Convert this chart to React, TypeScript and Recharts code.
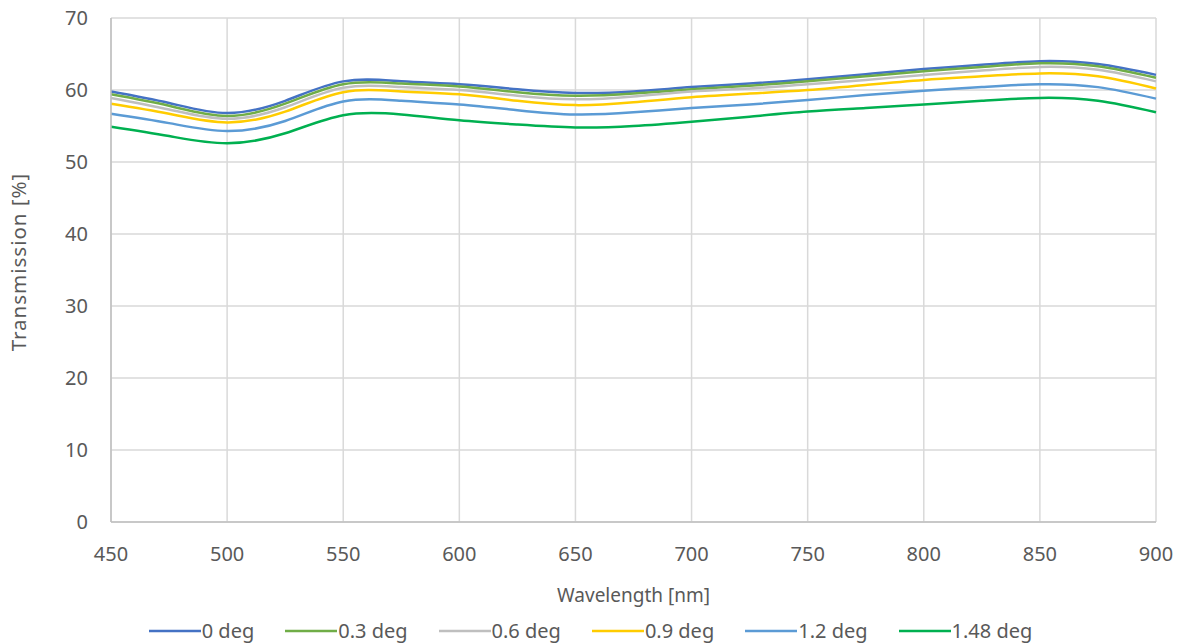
import React from 'react';
import {
  LineChart,
  Line,
  XAxis,
  YAxis,
  CartesianGrid,
} from 'recharts';

const wavelengths = [450, 475, 500, 525, 550, 575, 600, 625, 650, 675, 700, 725, 750, 775, 800, 825, 850, 875, 900];

const deg0 = [59.8, 58.2, 56.8, 58.5, 61.2, 61.2, 60.8, 60.1, 59.6, 59.8, 60.4, 60.9, 61.5, 62.2, 62.9, 63.5, 64.0, 63.6, 62.1];
const deg03 = [59.4, 57.8, 56.4, 58.1, 60.8, 60.9, 60.5, 59.7, 59.2, 59.5, 60.1, 60.6, 61.2, 61.9, 62.6, 63.2, 63.7, 63.3, 61.7];
const deg06 = [58.9, 57.3, 56.0, 57.6, 60.3, 60.4, 60.0, 59.2, 58.7, 59.1, 59.8, 60.2, 60.8, 61.4, 62.1, 62.7, 63.2, 62.8, 61.2];
const deg09 = [58.1, 56.7, 55.5, 57.0, 59.7, 59.8, 59.4, 58.5, 57.9, 58.3, 59.0, 59.5, 60.0, 60.7, 61.4, 61.9, 62.3, 61.9, 60.2];
const deg12 = [56.7, 55.4, 54.3, 55.7, 58.4, 58.5, 58.0, 57.2, 56.6, 56.9, 57.5, 58.0, 58.6, 59.3, 59.9, 60.4, 60.8, 60.4, 58.8];
const deg148 = [54.9, 53.6, 52.6, 54.0, 56.5, 56.6, 55.8, 55.2, 54.8, 55.0, 55.6, 56.3, 57.0, 57.5, 58.0, 58.5, 58.9, 58.5, 56.9];

const xTicks = [450, 500, 550, 600, 650, 700, 750, 800, 850, 900];
const yTicks = [0, 10, 20, 30, 40, 50, 60, 70];

const series = [
  { key: 'd0', name: '0 deg', values: deg0, color: '#4472C4' },
  { key: 'd03', name: '0.3 deg', values: deg03, color: '#70AD47' },
  { key: 'd06', name: '0.6 deg', values: deg06, color: '#BFBFBF' },
  { key: 'd09', name: '0.9 deg', values: deg09, color: '#FFCC00' },
  { key: 'd12', name: '1.2 deg', values: deg12, color: '#5B9BD5' },
  { key: 'd148', name: '1.48 deg', values: deg148, color: '#00B050' },
];

const data = wavelengths.map((w, i) => {
  const row: Record<string, number> = { w };
  series.forEach((s) => {
    row[s.key] = s.values[i];
  });
  return row;
});

const font = "'Noto Sans', sans-serif";
const textColor = '#595959';

function YLabel() {
  return (
    <text
      x={20}
      y={262}
      transform="rotate(-90, 20, 262)"
      textAnchor="middle"
      dominantBaseline="middle"
      fill={textColor}
      fontSize={20.5}
      letterSpacing={1}
      fontFamily={font}
    >
      Transmission [%]
    </text>
  );
}

export default function App() {
  return (
    <div style={{ position: 'absolute', left: 0, top: 0, width: 1181, height: 644, background: '#fff' }}>
      <LineChart
        width={1181}
        height={644}
        data={data}
        margin={{ top: 18, right: 25, left: 0, bottom: 42 }}
      >
        <CartesianGrid stroke="#d9d9d9" strokeWidth={1.5} />
        <XAxis
          dataKey="w"
          type="number"
          domain={[450, 900]}
          ticks={xTicks}
          height={80}
          tickSize={0}
          tickMargin={25}
          axisLine={{ stroke: '#bfbfbf', strokeWidth: 1.5 }}
          tick={{ fill: textColor, fontSize: 20, fontFamily: font }}
          label={{
            value: 'Wavelength [nm]',
            position: 'insideBottom',
            offset: 0,
            fill: textColor,
            fontSize: 19,
            fontFamily: font,
          }}
        />
        <YAxis
          type="number"
          domain={[0, 70]}
          ticks={yTicks}
          width={111}
          tickSize={0}
          tickMargin={23}
          axisLine={{ stroke: '#bfbfbf', strokeWidth: 1.5 }}
          tick={{ fill: textColor, fontSize: 20, fontFamily: font }}
          label={{ content: () => <YLabel /> }}
        />
        {series.map((s) => (
          <Line
            key={s.key}
            type="natural"
            dataKey={s.key}
            name={s.name}
            stroke={s.color}
            strokeWidth={2.5}
            dot={false}
            isAnimationActive={false}
          />
        ))}
      </LineChart>
      <div
        style={{
          position: 'absolute',
          top: 617,
          left: 0,
          width: 1181,
          display: 'flex',
          justifyContent: 'center',
          gap: 31,
          fontFamily: font,
          fontSize: 20,
          lineHeight: '28px',
          color: textColor,
        }}
      >
        {series.map((s) => (
          <div key={s.key} style={{ display: 'flex', alignItems: 'center' }}>
            <svg width={52} height={4} style={{ marginRight: 1 }}>
              <line x1={0} y1={2} x2={52} y2={2} stroke={s.color} strokeWidth={2.5} />
            </svg>
            <span>{s.name}</span>
          </div>
        ))}
      </div>
    </div>
  );
}
